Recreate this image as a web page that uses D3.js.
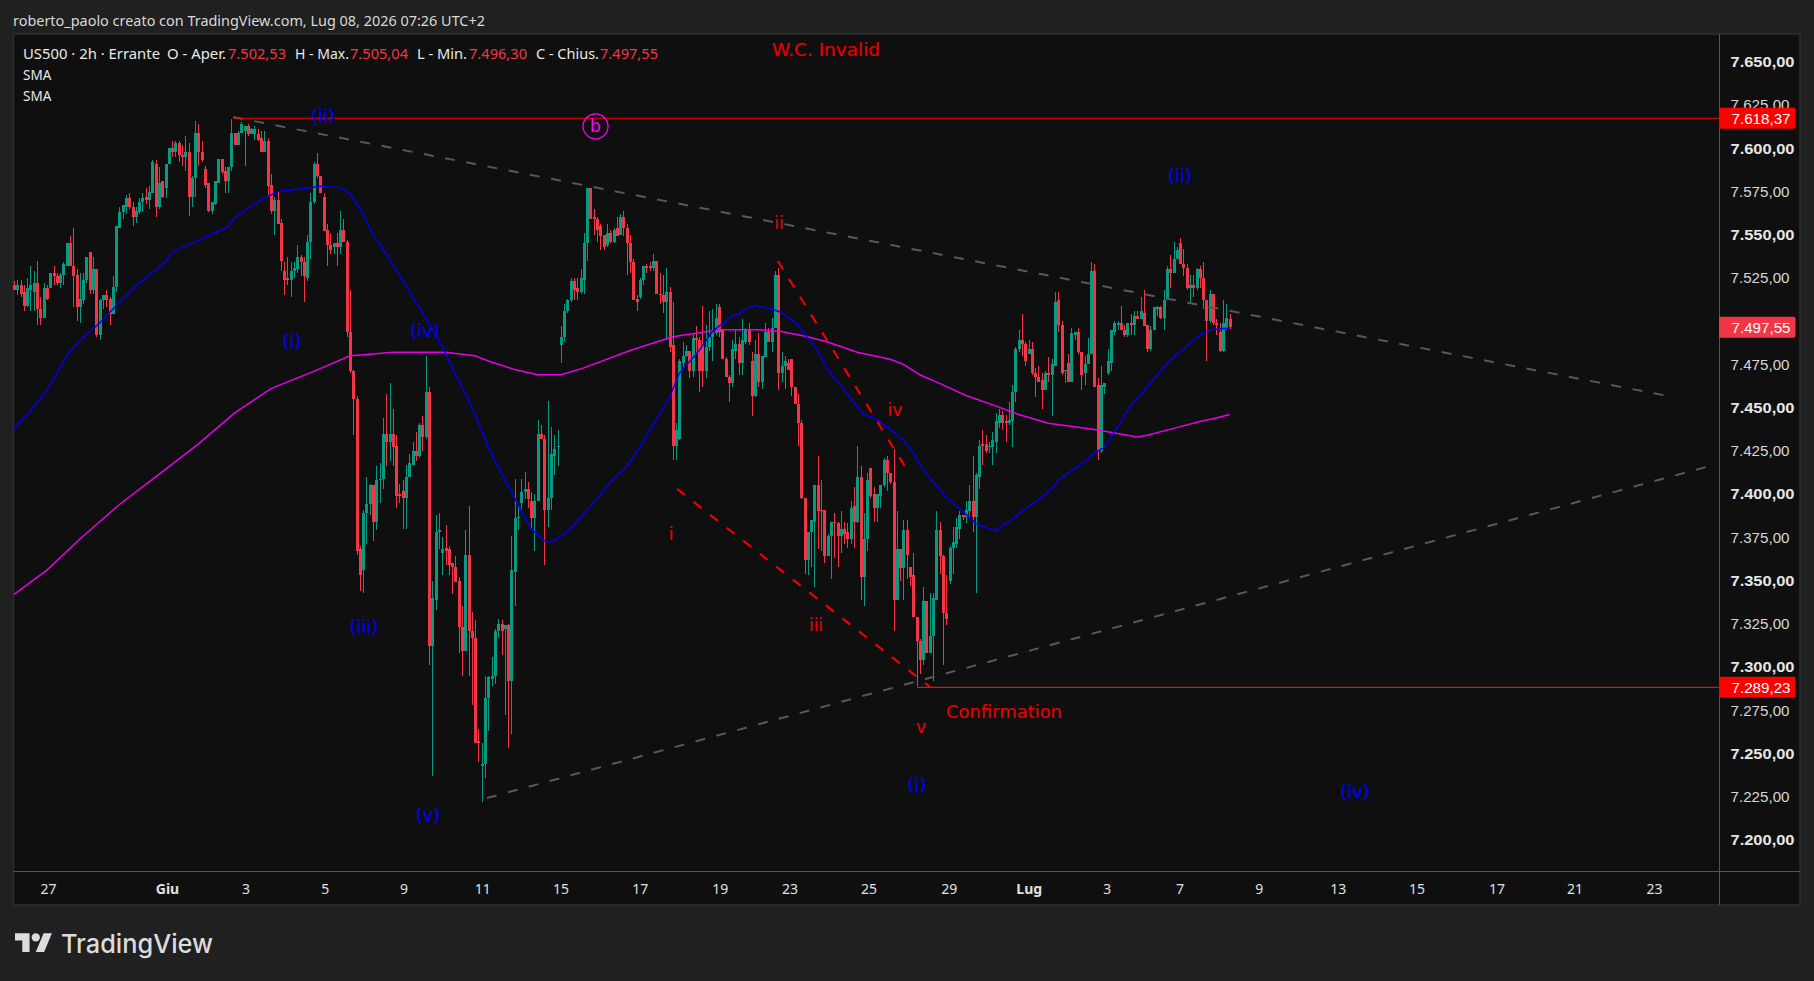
<!DOCTYPE html>
<html><head><meta charset="utf-8">
<style>html,body{margin:0;padding:0;background:#202020;overflow:hidden}</style>
<script src="https://cdn.jsdelivr.net/npm/d3@7/dist/d3.min.js"></script>
</head><body><svg id="c" width="1814" height="981"></svg>
<script>
const open=[
7522,7519,7522,7518,7510,7519,7518,7523,7508,7503,7520,7520,7529,7527,7523,7528,7533,7546,7533,7528,
7509,7513,7525,7541,7519,7531,7493,7513,7516,7514,7505,7521,7555,7564,7567,7572,7567,7561,7564,7570,
7573,7571,7575,7592,7567,7582,7578,7592,7601,7599,7604,7597,7596,7599,7573,7584,7610,7599,7589,7581,
7565,7569,7581,7595,7588,7582,7590,7610,7603,7610,7611,7614,7609,7609,7609,7607,7599,7605,7580,7565,
7571,7558,7530,7526,7525,7530,7531,7538,7535,7526,7547,7570,7592,7585,7573,7554,7545,7544,7546,7544,
7554,7547,7495,7472,7456,7369,7357,7390,7395,7406,7385,7409,7410,7436,7431,7436,7429,7401,7403,7399,
7411,7418,7426,7423,7441,7434,7460,7313,7340,7379,7367,7370,7369,7361,7359,7351,7324,7310,7366,7322,
7318,7258,7244,7245,7283,7294,7296,7322,7326,7323,7325,7293,7356,7387,7396,7402,7404,7397,7387,7397,
7436,7433,7392,7399,7423,7428,7487,7492,7507,7513,7524,7520,7518,7525,7546,7578,7561,7560,7556,7551,
7545,7552,7547,7555,7551,7561,7555,7546,7535,7514,7515,7525,7533,7533,7532,7536,7517,7516,7512,7518,
7487,7429,7433,7477,7481,7484,7472,7491,7490,7487,7472,7486,7492,7494,7509,7496,7479,7469,7465,7484,
7488,7477,7489,7496,7478,7458,7482,7466,7480,7495,7489,7497,7528,7471,7475,7477,7479,7463,7453,7442,
7399,7363,7379,7385,7406,7392,7392,7365,7377,7385,7384,7377,7381,7379,7375,7394,7385,7411,7353,7375,
7416,7401,7393,7400,7406,7421,7413,7408,7340,7369,7358,7380,7359,7354,7330,7316,7305,7339,7309,7319,
7340,7380,7365,7332,7351,7370,7372,7381,7389,7388,7391,7397,7388,7411,7430,7430,7428,7428,7431,7442,
7447,7443,7442,7443,7460,7485,7490,7488,7482,7485,7471,7469,7467,7461,7471,7470,7475,7513,7499,7472,
7477,7466,7493,7495,7483,7471,7476,7482,7530,7464,7426,7463,7471,7477,7495,7499,7500,7496,7493,7500,
7499,7504,7502,7506,7499,7485,7496,7508,7509,7503,7513,7531,7529,7537,7546,7534,7532,7520,7522,7520,
7531,7526,7513,7501,7517,7500,7495,7484,7497,7502.53];
const high=[
7524,7525,7525,7522,7526,7533,7530,7536,7515,7523,7522,7529,7533,7529,7529,7535,7546,7550,7555,7531,
7529,7529,7538,7541,7538,7531,7514,7516,7519,7515,7527,7556,7567,7568,7574,7575,7570,7567,7572,7575,
7578,7579,7594,7594,7590,7582,7592,7601,7605,7605,7605,7603,7608,7604,7585,7617,7615,7605,7591,7581,
7570,7582,7595,7595,7590,7590,7618,7610,7611,7616,7614,7615,7613,7614,7612,7611,7611,7607,7586,7573,
7576,7560,7535,7538,7535,7535,7545,7539,7538,7551,7575,7593,7598,7585,7575,7557,7552,7546,7552,7565,
7560,7548,7519,7473,7458,7371,7392,7411,7407,7406,7417,7419,7445,7459,7465,7450,7435,7407,7409,7418,
7424,7431,7437,7442,7446,7481,7463,7351,7389,7390,7376,7383,7371,7361,7365,7353,7336,7380,7394,7333,
7328,7265,7257,7296,7296,7307,7323,7329,7328,7325,7326,7377,7410,7394,7410,7414,7408,7402,7401,7444,
7441,7435,7455,7440,7435,7438,7498,7511,7514,7526,7526,7526,7531,7552,7578,7578,7566,7561,7557,7551,
7557,7554,7555,7561,7563,7565,7557,7551,7537,7516,7526,7533,7534,7535,7540,7536,7529,7528,7532,7521,
7512,7442,7479,7489,7487,7484,7494,7498,7492,7510,7499,7507,7508,7511,7511,7496,7480,7470,7490,7496,
7492,7502,7497,7500,7483,7490,7494,7481,7500,7497,7503,7530,7532,7483,7481,7479,7479,7463,7459,7444,
7399,7379,7386,7406,7423,7409,7392,7378,7385,7390,7385,7391,7385,7384,7397,7405,7429,7417,7390,7413,
7416,7405,7401,7406,7422,7423,7413,7427,7391,7369,7386,7386,7359,7367,7330,7317,7347,7339,7344,7344,
7391,7385,7366,7354,7371,7382,7387,7391,7389,7397,7406,7423,7413,7432,7438,7435,7431,7437,7448,7450,
7449,7447,7454,7464,7486,7496,7505,7489,7490,7489,7474,7475,7471,7472,7480,7479,7518,7518,7501,7473,
7482,7497,7495,7497,7483,7481,7491,7535,7534,7468,7475,7465,7485,7496,7501,7501,7510,7499,7500,7505,
7507,7507,7515,7519,7499,7498,7509,7510,7510,7519,7533,7539,7547,7544,7549,7543,7534,7528,7528,7532,
7533,7535,7513,7519,7517,7502,7500,7513,7511,7505.04];
const low=[
7519,7516,7515,7507,7509,7507,7507,7499,7499,7503,7513,7520,7522,7522,7520,7522,7533,7533,7509,7501,
7500,7511,7523,7517,7517,7492,7490,7508,7509,7499,7505,7518,7555,7560,7563,7566,7556,7558,7563,7564,
7569,7566,7575,7561,7566,7572,7572,7592,7596,7596,7593,7591,7588,7562,7567,7573,7591,7593,7578,7564,
7563,7568,7581,7586,7575,7575,7588,7603,7603,7610,7591,7608,7609,7606,7605,7599,7599,7574,7563,7551,
7557,7530,7516,7522,7515,7526,7529,7527,7512,7524,7537,7569,7584,7575,7553,7533,7540,7540,7533,7540,
7547,7492,7471,7435,7366,7345,7344,7372,7389,7374,7380,7396,7404,7417,7420,7417,7393,7396,7381,7381,
7411,7418,7420,7422,7426,7433,7302,7238,7334,7369,7354,7360,7354,7343,7350,7309,7296,7310,7296,7279,
7257,7246,7223,7237,7264,7290,7291,7318,7308,7273,7254,7262,7336,7380,7392,7398,7393,7380,7368,7397,
7433,7360,7382,7392,7412,7417,7477,7489,7506,7512,7513,7513,7517,7517,7536,7560,7551,7547,7542,7542,
7544,7546,7546,7550,7551,7550,7528,7529,7513,7507,7514,7522,7529,7530,7530,7517,7511,7506,7490,7483,
7421,7421,7432,7474,7480,7468,7469,7482,7460,7463,7468,7484,7478,7493,7492,7479,7469,7454,7463,7479,
7470,7470,7488,7487,7446,7457,7463,7462,7480,7489,7483,7497,7461,7466,7462,7473,7458,7453,7429,7398,
7355,7354,7359,7347,7369,7368,7361,7365,7352,7364,7359,7367,7372,7370,7372,7370,7384,7340,7336,7368,
7399,7385,7385,7393,7405,7403,7407,7322,7340,7351,7340,7352,7348,7330,7290,7297,7302,7309,7309,7293,
7340,7355,7302,7325,7349,7355,7370,7375,7386,7384,7387,7379,7344,7404,7418,7425,7425,7418,7425,7439,
7438,7431,7441,7428,7454,7483,7481,7475,7482,7470,7457,7466,7450,7461,7466,7446,7475,7495,7470,7465,
7466,7466,7490,7482,7461,7464,7476,7482,7463,7421,7425,7459,7470,7472,7493,7496,7496,7492,7492,7493,
7493,7502,7502,7498,7483,7484,7496,7504,7502,7496,7513,7520,7529,7537,7534,7527,7519,7512,7515,7519,
7520,7508,7478,7500,7499,7493,7483,7483,7496,7496.30];
const close=[
7519,7522,7517,7510,7520,7522,7523,7508,7503,7520,7514,7529,7527,7523,7528,7534,7546,7533,7527,7509,
7514,7525,7538,7519,7531,7493,7513,7516,7513,7505,7521,7556,7564,7568,7572,7567,7561,7565,7570,7572,
7571,7576,7593,7567,7581,7573,7592,7601,7599,7604,7597,7596,7599,7573,7584,7610,7599,7594,7580,7565,
7570,7582,7595,7587,7582,7590,7610,7603,7610,7615,7614,7609,7612,7612,7606,7599,7605,7579,7565,7571,
7557,7536,7525,7525,7530,7532,7538,7535,7527,7547,7570,7592,7585,7575,7553,7545,7542,7546,7544,7554,
7547,7495,7472,7456,7368,7354,7390,7395,7406,7385,7409,7410,7436,7431,7436,7428,7400,7400,7399,7411,
7419,7426,7423,7441,7434,7460,7313,7341,7379,7380,7369,7368,7360,7359,7350,7324,7310,7366,7322,7318,
7257,7257,7245,7283,7295,7296,7322,7326,7322,7325,7293,7357,7387,7388,7402,7404,7398,7387,7397,7436,
7433,7392,7399,7424,7427,7429,7492,7507,7513,7524,7519,7518,7526,7546,7578,7560,7560,7554,7550,7544,
7552,7547,7554,7550,7561,7555,7546,7535,7513,7512,7525,7533,7532,7532,7536,7517,7516,7512,7518,7486,
7429,7438,7478,7481,7484,7472,7491,7490,7472,7472,7486,7492,7495,7503,7495,7479,7469,7465,7485,7488,
7477,7490,7496,7489,7458,7482,7466,7481,7495,7489,7497,7528,7471,7475,7478,7473,7463,7453,7442,7399,
7363,7379,7386,7406,7391,7391,7365,7377,7385,7384,7377,7381,7378,7375,7393,7385,7411,7353,7375,7409,
7400,7393,7401,7406,7421,7413,7408,7340,7369,7358,7380,7366,7353,7330,7316,7305,7339,7309,7319,7341,
7380,7365,7332,7329,7370,7373,7382,7389,7388,7392,7397,7388,7412,7429,7429,7426,7429,7432,7443,7447,
7442,7442,7444,7460,7485,7490,7488,7478,7485,7471,7469,7466,7461,7471,7470,7476,7512,7499,7471,7473,
7466,7494,7495,7483,7470,7476,7482,7530,7463,7426,7464,7465,7478,7496,7500,7500,7496,7493,7500,7499,
7504,7502,7507,7498,7485,7496,7509,7509,7503,7513,7531,7529,7537,7542,7534,7532,7520,7522,7520,7531,
7526,7513,7501,7517,7500,7499,7484,7500,7503,7497.55];

// moving averages: bar position and value at each bend
const smaFastBar=[0,5,10,16,20,26,32,38,44,46,48,54,62,65,67,74,80,85,93,99,102,106,109,113,116,129,136,140,144,148,153,157,161,163,168,176,182,186,190,194,199,202,208,212,218,220,222,225,230,233,238,241,244,247,251,255,258,261,265,270,273,275,279,281,283,288,292,296,298,302,306,312,316,317,323,326,328,331,334,339,344,349,352,360,363,369];
const smaFast=[7439,7449,7461,7481,7490,7500,7512,7523,7532,7535,7541,7546,7553,7556,7561,7570,7576,7577,7579,7578,7575,7563,7551,7540,7531,7490,7463,7447,7428,7413,7395,7381,7374,7373,7379,7396,7410,7417,7428,7441,7457,7471,7484,7495,7504,7505,7508,7510,7508,7506,7499,7491,7484,7473,7464,7454,7447,7445,7440,7432,7425,7418,7408,7404,7399,7391,7384,7381,7380,7385,7391,7399,7406,7409,7417,7421,7425,7428,7437,7452,7463,7474,7480,7493,7496,7497];
const smaSlowBar=[0,10,20,32,43,56,67,78,91,102,109,115,124,131,140,144,152,159,166,173,187,195,200,207,214,226,233,241,247,256,266,270,275,281,289,298,305,314,322,329,335,341,344,352,360,365,369];
const smaSlow=[7343,7357,7375,7395,7411,7430,7448,7462,7472,7481,7482,7483,7483,7483,7481,7478,7473,7470,7470,7474,7484,7489,7492,7494,7496,7496,7495,7492,7489,7483,7479,7476,7470,7465,7458,7452,7447,7442,7440,7438,7436,7434,7435,7439,7443,7445,7447];

// price levels and drawn trend lines (bar, price)
const invalidLevel=7618.37, confirmLevel=7289.23, lastClose=7497.55;
const levelStartBars=[66.5,274.1];
const trendTopBars=[66.5,502.7],  trendTopVals=[7619.1,7457.5];
const trendLowBars=[143.6,514.9], trendLowVals=[7225.2,7417.3];
const redLowBars=[201.3,278.1],   redLowVals=[7404,7289.4];
const redHighBars=[231.9,270.8],  redHighVals=[7535.8,7416.1];

const priceTicks=[7650,7625,7600,7575,7550,7525,7500,7475,7450,7425,7400,7375,7350,7325,7300,7275,7250,7225,7200];
const dateTickBars=[10.5,46.6,70.4,94.5,118.4,142.3,166.1,190.1,214.4,235.6,259.6,283.9,308.2,331.9,354,378,402,425.9,450.2,473.9,498];
const dateTickLabels=["27","Giu","3","5","9","11","15","17","19","23","25","29","Lug","3","7","9","13","15","17","21","23"];

const svg=d3.select("#c");
const L=13.5,R=1719,T=34,B=871,FR=1800,FB=905;
const x=d3.scaleLinear().domain([0,close.length-1]).range([14,1229.5]);
const y=d3.scaleLinear().domain([7183,7667.1]).range([B,T]);
const UP="#089981",DN="#f23645";
const BF="'Noto Sans','Open Sans',sans-serif";

svg.append("rect").attr("width",1814).attr("height",981).attr("fill","#202020");
svg.append("rect").attr("x",L).attr("y",T).attr("width",FR-L).attr("height",FB-T).attr("fill","#0f0f0f").attr("stroke","#2e2e2e").attr("stroke-width",1.5);

function text(s,px,py,o={}){
  const t=svg.append("text").attr("x",px).attr("y",py).text(s)
    .attr("dominant-baseline","central")
    .attr("font-family",o.family||BF).attr("font-size",o.size||14)
    .attr("font-weight",o.weight||400).attr("fill",o.fill||"#dcdcdc")
    .attr("text-anchor",o.anchor||"start");
  if(o.len) t.attr("textLength",o.len).attr("lengthAdjust","spacingAndGlyphs");
  if(o.halo) t.attr("stroke",o.fill).attr("stroke-width",o.halo);
  return t;
}

// candles
const bars=d3.range(close.length);
const g=svg.append("g").attr("shape-rendering","crispEdges");
g.selectAll("line.w").data(bars).join("line").attr("class","w")
  .attr("x1",i=>Math.round(x(i))+.5).attr("x2",i=>Math.round(x(i))+.5)
  .attr("y1",i=>y(high[i])).attr("y2",i=>y(low[i]))
  .attr("stroke",i=>close[i]>=open[i]?UP:DN).attr("stroke-width",1);
g.selectAll("rect.b").data(bars).join("rect").attr("class","b")
  .attr("x",i=>Math.round(x(i))-1).attr("width",3)
  .attr("y",i=>y(Math.max(open[i],close[i])))
  .attr("height",i=>Math.max(1,Math.abs(y(open[i])-y(close[i]))))
  .attr("fill",i=>close[i]>=open[i]?UP:DN);

// SMA lines
const lineOf=(bx,vs)=>d3.line().x((d,i)=>x(bx[i])).y(d=>y(d))(vs);
svg.append("path").attr("d",lineOf(smaSlowBar,smaSlow)).attr("fill","none").attr("stroke","#e600e6").attr("stroke-width",1.5);
svg.append("path").attr("d",lineOf(smaFastBar,smaFast)).attr("fill","none").attr("stroke","#0000f0").attr("stroke-width",1.5);

// trend lines
const dash=(bx,vs,c,w,da)=>svg.append("path").attr("d",lineOf(bx,vs)).attr("fill","none").attr("stroke",c).attr("stroke-width",w).attr("stroke-dasharray",da);
dash(trendTopBars,trendTopVals,"#585858",2,"10 11.6");
dash(trendLowBars,trendLowVals,"#585858",2,"10 11.6");
dash(redLowBars,redLowVals,"#f00000",2.2,"10 11");
dash(redHighBars,redHighVals,"#f00000",2.2,"10 11");

// horizontal levels
svg.append("line").attr("x1",x(levelStartBars[0])).attr("x2",R).attr("y1",y(invalidLevel)).attr("y2",y(invalidLevel)).attr("stroke","#f00000").attr("stroke-width",1.2);
svg.append("line").attr("x1",x(levelStartBars[1])).attr("x2",R).attr("y1",y(confirmLevel)).attr("y2",y(confirmLevel)).attr("stroke","#d81414").attr("stroke-width",1.1);

// axis rails
svg.append("line").attr("x1",R+.5).attr("x2",R+.5).attr("y1",T).attr("y2",FB).attr("stroke","#555").attr("stroke-width",1);
svg.append("line").attr("x1",L).attr("x2",FR).attr("y1",B+.5).attr("y2",B+.5).attr("stroke","#555").attr("stroke-width",1);

// price axis
priceTicks.forEach(p=>{
  const major=p%50===0;
  text(d3.format(".2f")(p).replace(/(\d)(\d{3})\.(\d\d)/,"$1.$2,$3"),1730.5,y(p)-1.9,{size:15,family:"'Liberation Sans',sans-serif",weight:major?700:400,len:major?64:59,fill:major?"#e6e6e6":"#d6d6d6"});
});
// date axis
dateTickBars.forEach((b,i)=>{
  const bold=isNaN(+dateTickLabels[i]);
  text(dateTickLabels[i],x(b),888,{size:14,anchor:"middle",weight:bold?700:400,fill:"#e0e0e0"});
});

// price flags
function flag(v,c,s){
  const yy=y(v);
  svg.append("path").attr("d",`M${R} ${yy-10.5}H${R+74.5}q2 0 2 2V${yy+8.5}q0 2-2 2H${R}Z`).attr("fill",c);
  text(s,1731.5,yy,{size:15,family:"'Liberation Sans',sans-serif",fill:"#fff",len:59});
}
flag(invalidLevel,"#ff0000","7.618,37");
flag(lastClose,DN,"7.497,55");
flag(confirmLevel,"#ff0000","7.289,23");

// header
text("roberto_paolo creato con TradingView.com, Lug 08, 2026 07:26 UTC+2",13,20,{size:14,fill:"#d8d8d8",len:472});
text("US500 · 2h · Errante",23,54,{size:13.5,fill:"#e8e8e8",len:137});
[["O - Aper.",167,59,"7.502,53",228],["H - Max.",295,54,"7.505,04",350],["L - Min.",417,50,"7.496,30",469],["C - Chius.",536,63,"7.497,55",600]].forEach(r=>{
  text(r[0],r[1],54,{size:13.5,fill:"#e8e8e8",len:r[2]});
  text(r[3],r[4],54,{size:13.5,fill:DN,len:58});
});
text("SMA",23,75,{size:13.5,fill:"#e8e8e8"});
text("SMA",23,96,{size:13.5,fill:"#e8e8e8"});

// annotations
const AF="'DejaVu Sans',sans-serif";
const blue=(s,px,py)=>text(s,px,py,{size:18,fill:"#0000f0",anchor:"middle",family:AF,halo:.25});
const red=(s,px,py,sz,len)=>text(s,px,py,{size:sz||17,fill:"#e80000",anchor:"middle",family:AF,len,halo:.15});
blue("(ii)",323,115);blue("(i)",292,340);blue("(iv)",425,330);blue("(iii)",364,626);blue("(v)",428,814);
blue("(i)",917,784);blue("(ii)",1180,175);blue("(iv)",1355,791);
red("i",671,534);red("ii",779,223);red("iii",816,625);red("iv",895,410);red("v",921,727);
red("W.C. Invalid",826,50,17.5,108);
red("Confirmation",1004,712,17.5,116);
svg.append("circle").attr("cx",595.5).attr("cy",126.3).attr("r",12.5).attr("fill","none").attr("stroke","#ff00ff").attr("stroke-width",1.2);
text("b",595.5,126,{size:17,fill:"#ff00ff",anchor:"middle",family:AF});

// logo
const logo=svg.append("g").attr("transform","translate(15,929) scale(1.04)").attr("fill","#dcdcdc");
logo.append("path").attr("d","M14 22H7V11H0V4h14v18zM28 22h-8l7.5-18h8L28 22z");
logo.append("circle").attr("cx",20).attr("cy",8).attr("r",4);
text("TradingView",61,943,{size:26,weight:500,family:"Inter,'Noto Sans',sans-serif",fill:"#dcdcdc",len:152});
</script></body></html>
